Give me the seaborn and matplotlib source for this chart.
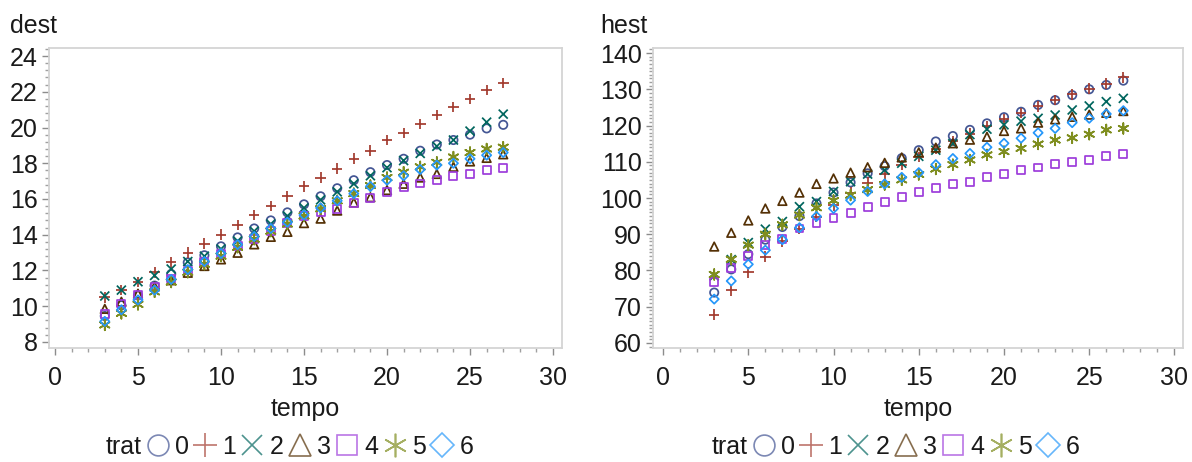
import matplotlib
matplotlib.use("Agg")
import matplotlib.pyplot as plt
from matplotlib.markers import MarkerStyle
from matplotlib.lines import Line2D
from matplotlib.ticker import MultipleLocator
import seaborn as sns
import pandas as pd

sns.set_theme(style="white")
plt.rcParams['font.family'] = ['Liberation Sans', 'DejaVu Sans']

# ---------------- data ----------------
tempo = [3, 4, 5, 6, 7, 8, 9, 10, 11, 12, 13, 14, 15, 16, 17, 18, 19, 20, 21, 22, 23, 24, 25, 26, 27]
trat_levels = ['0', '1', '2', '3', '4', '5', '6']

dest_0 = [9.45, 10.05, 10.6, 11.15, 11.8, 12.45, 12.85, 13.35, 13.85, 14.35, 14.8, 15.25, 15.7, 16.15, 16.6, 17.05, 17.5, 17.9, 18.25, 18.7, 19.05, 19.3, 19.6, 19.95, 20.15]
dest_1 = [10.5, 10.9, 11.35, 11.9, 12.45, 13.0, 13.5, 14.0, 14.55, 15.1, 15.6, 16.15, 16.7, 17.2, 17.7, 18.25, 18.7, 19.3, 19.7, 20.2, 20.7, 21.15, 21.6, 22.1, 22.5]
dest_2 = [10.57, 10.9, 11.37, 11.72, 12.08, 12.5, 12.8, 13.2, 13.65, 14.2, 14.6, 15.05, 15.5, 15.95, 16.4, 16.85, 17.3, 17.75, 18.15, 18.55, 18.95, 19.3, 19.8, 20.3, 20.75]
dest_3 = [9.85, 10.25, 10.7, 11.1, 11.45, 11.87, 12.25, 12.62, 12.99, 13.46, 13.88, 14.16, 14.65, 14.9, 15.35, 15.8, 16.1, 16.5, 16.85, 17.2, 17.4, 17.8, 18.1, 18.3, 18.5]
dest_4 = [9.55, 10.15, 10.65, 11.1, 11.55, 12.0, 12.45, 12.9, 13.35, 13.75, 14.2, 14.65, 15.05, 15.28, 15.45, 15.78, 16.05, 16.4, 16.68, 16.87, 17.05, 17.3, 17.42, 17.6, 17.74]
dest_5 = [8.95, 9.6, 10.1, 10.8, 11.35, 11.9, 12.35, 12.8, 13.3, 13.75, 14.2, 14.6, 15.05, 15.45, 15.9, 16.3, 16.75, 17.2, 17.5, 17.8, 18.05, 18.35, 18.6, 18.8, 18.9]
dest_6 = [9.15, 9.8, 10.35, 10.9, 11.5, 12.05, 12.5, 12.95, 13.45, 13.9, 14.35, 14.7, 15.1, 15.5, 15.9, 16.3, 16.7, 17.05, 17.3, 17.65, 17.9, 18.0, 18.25, 18.45, 18.6]

hest_0 = [73.9, 80.3, 84.5, 88.5, 92.0, 95.0, 98.5, 101.5, 104.3, 106.8, 108.8, 111.0, 113.2, 115.6, 117.1, 118.8, 120.6, 122.3, 123.8, 125.7, 127.0, 128.4, 130.0, 131.2, 132.4]
hest_1 = [67.8, 74.5, 79.5, 83.8, 88.0, 91.5, 94.8, 98.0, 101.5, 104.2, 106.5, 109.1, 111.3, 113.5, 115.7, 117.8, 119.9, 121.7, 123.5, 125.3, 127.0, 128.6, 130.2, 131.6, 133.3]
hest_2 = [78.5, 83.0, 87.7, 91.4, 93.5, 97.6, 99.0, 101.8, 104.5, 106.6, 107.7, 109.6, 111.5, 113.2, 115.0, 117.5, 119.0, 120.2, 121.2, 122.0, 122.9, 124.3, 125.4, 126.6, 127.5]
hest_3 = [86.6, 90.4, 93.8, 97.1, 99.2, 101.5, 103.9, 105.4, 107.0, 108.5, 109.7, 111.2, 112.6, 113.9, 115.1, 116.1, 116.9, 118.5, 119.2, 120.8, 121.7, 122.4, 123.0, 123.5, 124.0]
hest_4 = [76.9, 80.6, 84.0, 87.0, 88.8, 91.6, 93.1, 94.4, 95.9, 97.6, 99.0, 100.2, 101.6, 102.8, 103.9, 104.3, 105.7, 106.6, 107.7, 108.4, 109.3, 110.0, 110.5, 111.6, 112.1]
hest_5 = [78.9, 83.1, 87.0, 90.0, 92.6, 95.3, 97.3, 99.3, 100.8, 102.3, 103.7, 105.0, 106.5, 108.0, 109.2, 110.5, 111.9, 112.8, 113.7, 114.9, 116.0, 116.6, 117.6, 118.8, 119.2]
hest_6 = [72.1, 77.1, 81.7, 85.6, 88.5, 91.8, 94.9, 97.1, 99.4, 101.8, 103.9, 105.7, 107.0, 109.2, 110.9, 112.3, 114.0, 115.1, 116.5, 118.0, 119.2, 120.8, 122.0, 123.2, 124.1]

dest_series = [dest_0, dest_1, dest_2, dest_3, dest_4, dest_5, dest_6]
hest_series = [hest_0, hest_1, hest_2, hest_3, hest_4, hest_5, hest_6]

rows = []
for lvl, dv, hv in zip(trat_levels, dest_series, hest_series):
    for t, d, h in zip(tempo, dv, hv):
        rows.append({'trat': lvl, 'tempo': t, 'dest': d, 'hest': h})
df = pd.DataFrame(rows)

# ---------------- style ----------------
colors = ['#445694', '#A23A2E', '#01665E', '#543005', '#9D3CDB', '#7F8E1F', '#2597FA']
marks = ['o', '+', 'x', '^', 's', (6, 2, 0), 'D']
msizes = [36, 58, 42, 38, 32, 58, 22]
leg_ms = [15, 17, 15, 16, 15, 17, 12]

W, H = 1192, 462
fig = plt.figure(figsize=(W / 100, H / 100), dpi=100)

def px_axes(x0, y0, x1, y1):
    return fig.add_axes([x0 / W, 1 - y1 / H, (x1 - x0) / W, (y1 - y0) / H])

ax1 = px_axes(49, 48, 562, 348)
ax2 = px_axes(653, 48, 1183, 348)

FS = 18
text_col = '#1a1a1a'

def style_axes(ax, ylim, ymaj, ymin, xlim):
    ax.set_xlim(*xlim)
    ax.set_ylim(*ylim)
    ax.xaxis.set_major_locator(MultipleLocator(5))
    ax.xaxis.set_minor_locator(MultipleLocator(1))
    ax.yaxis.set_major_locator(MultipleLocator(ymaj))
    ax.yaxis.set_minor_locator(MultipleLocator(ymin))
    for sp in ax.spines.values():
        sp.set_color('#d4d4d4')
        sp.set_linewidth(1.3)
        sp.set_visible(True)
    ax.tick_params(axis='both', which='major', direction='out', length=5, width=1,
                   color='#8c8c8c', labelsize=FS, labelcolor=text_col,
                   bottom=True, left=True, top=False, right=False)
    ax.tick_params(axis='both', which='minor', direction='out', length=3, width=1,
                   color='#a0a0a0', bottom=True, left=True, top=False, right=False)
    ax.tick_params(axis='x', which='major', pad=8)
    ax.tick_params(axis='y', which='major', pad=3)
    ax.grid(False)
    ax.set_facecolor('white')

for ax, ycol in ((ax1, 'dest'), (ax2, 'hest')):
    for lvl, c, m, s in zip(trat_levels, colors, marks, msizes):
        sub = df[df['trat'] == lvl]
        sns.scatterplot(data=sub, x='tempo', y=ycol, ax=ax,
                        marker=MarkerStyle(m, fillstyle='none'), color=c,
                        s=s, linewidth=1.25, legend=False, zorder=3)
    ax.set_ylabel('')
    ax.set_xlabel('tempo', fontsize=FS, color=text_col, labelpad=5)

style_axes(ax1, (7.66, 24.45), 2, 0.4, (-0.36, 30.54))
style_axes(ax2, (58.6, 141.4), 10, 1, (-0.59, 30.5))

fig.text(10 / W, 1 - 33 / H, 'dest', fontsize=FS, color=text_col, va='baseline', ha='left')
fig.text(600 / W, 1 - 33 / H, 'hest', fontsize=FS, color=text_col, va='baseline', ha='left')

# legends
handles = [Line2D([], [], linestyle='', marker=MarkerStyle(m, fillstyle='none'),
                  color=c, markersize=ms, markeredgewidth=1.2, alpha=0.7)
           for m, c, ms in zip(marks, colors, leg_ms)]

for ax, xstart in ((ax1, 145), (ax2, 751)):
    leg = ax.legend(handles, trat_levels, loc='center left',
                    bbox_to_anchor=(xstart / W, 1 - 447 / H),
                    bbox_transform=fig.transFigure, ncol=7, frameon=False,
                    fontsize=FS, handlelength=1.0, handletextpad=0.2,
                    columnspacing=0.14, borderpad=0, borderaxespad=0)
    for t in leg.get_texts():
        t.set_color(text_col)
    fig.text((xstart - 3) / W, 1 - 447 / H, 'trat', fontsize=FS, color=text_col,
             ha='right', va='center')

fig.savefig('out.png', dpi=100)
